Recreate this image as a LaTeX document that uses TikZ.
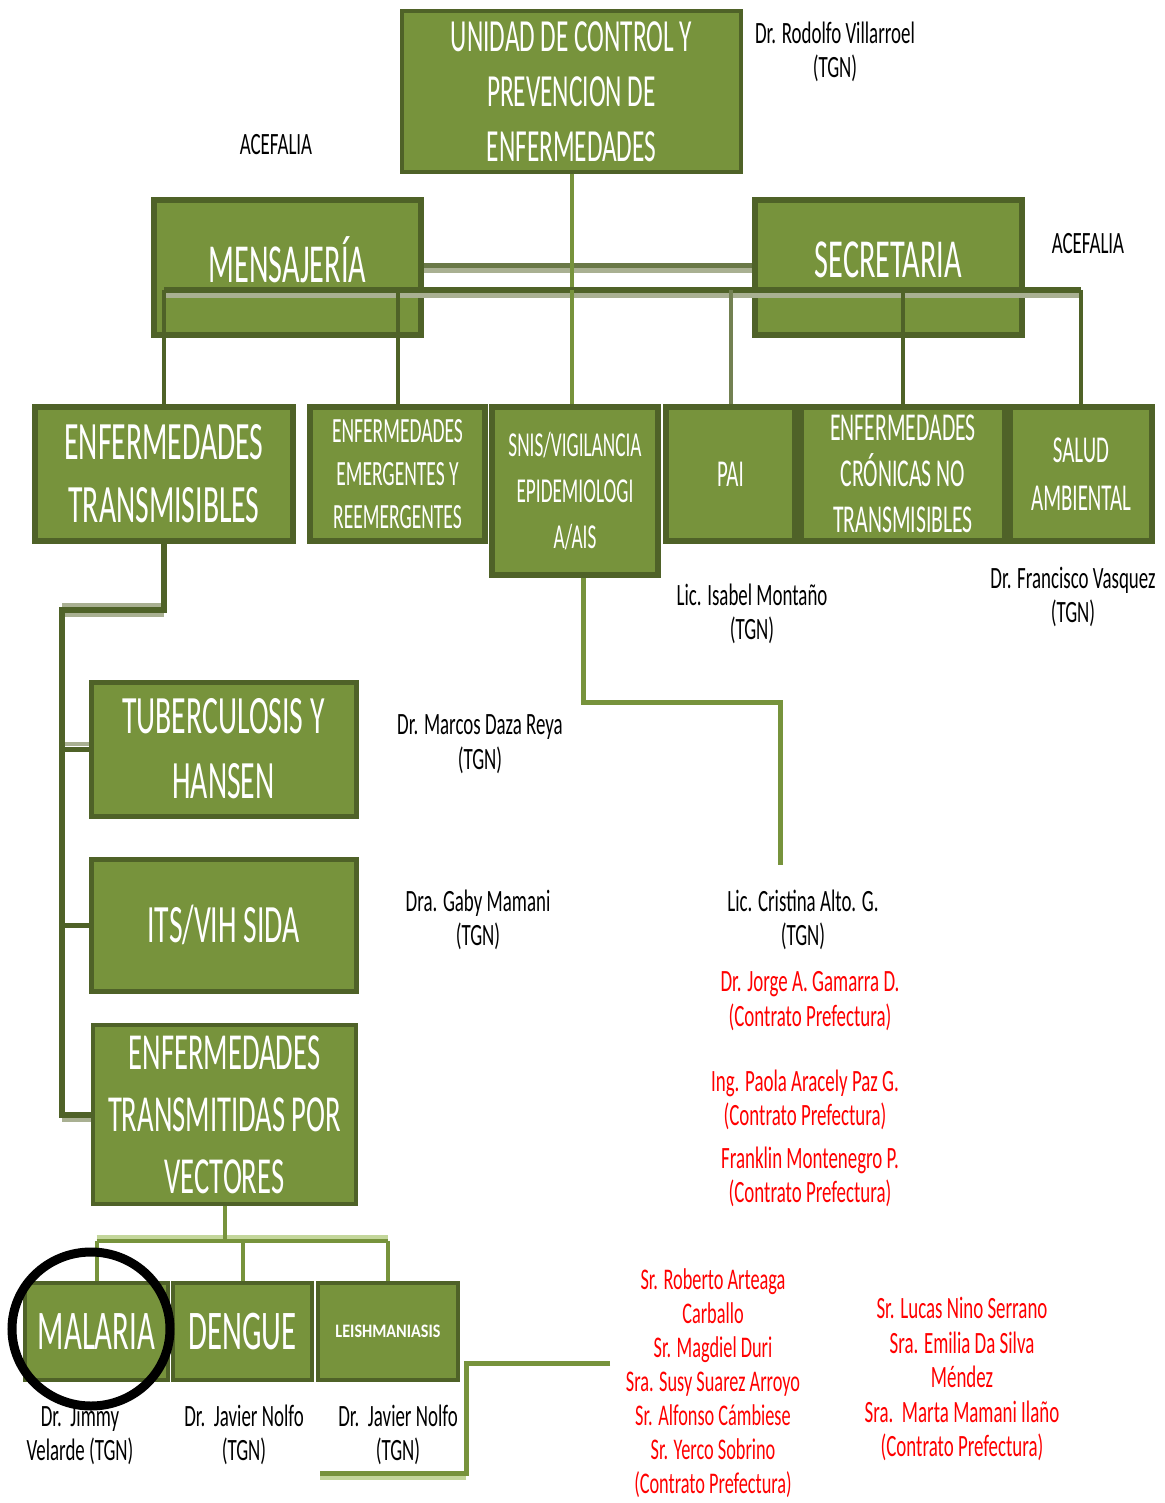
\documentclass[tikz,border=0pt]{standalone}
\usepackage{fontspec}
\newfontfamily\cf[FakeStretch=0.55]{Carlito}
\newfontfamily\cfn[FakeStretch=0.61]{Carlito}
\newfontfamily\cfw[FakeStretch=0.85]{Carlito}
\definecolor{oliveF}{HTML}{77933C}
\definecolor{oliveD}{HTML}{4F6228}
\definecolor{shadeG}{HTML}{A9B092}
\definecolor{shadeL}{HTML}{C3D69B}
\definecolor{redT}{HTML}{FF0000}
\tikzset{
  box/.style={draw=oliveD, fill=oliveF, line width=5pt, text=white, align=center, inner sep=0pt},
  conD/.style={draw=oliveD, line width=5pt},
  conG/.style={draw=oliveF, line width=5pt},
  shad/.style={draw=shadeG, line width=5pt},
  pname/.style={align=center, text=black, inner sep=0pt, font=\cfn\fontsize{31}{34.5}\selectfont},
  rname/.style={pname, text=redT},
}
\begin{document}
\begin{tikzpicture}[x=1pt,y=-1pt]
\useasboundingbox[fill=white] (0,0) rectangle (1164,1503);

% boxes
\node[box, line width=4pt, minimum width=339pt, minimum height=161pt, font=\cf\fontsize{46}{55}\selectfont] (unidad) at (571.5,91.5) {UNIDAD DE CONTROL Y\\PREVENCION DE\\ENFERMEDADES};
\node[box, line width=6pt, minimum width=267pt, minimum height=135pt, font=\cf\fontsize{55}{60}\selectfont] (mens) at (287.5,267.5) {\raisebox{8pt}[\height][\depth]{MENSAJERÍA}};
\node[box, line width=6pt, minimum width=267pt, minimum height=135pt, font=\cf\fontsize{55}{60}\selectfont] (secr) at (888.5,267.5) {\raisebox{8pt}[\height][\depth]{SECRETARIA}};

\node[box, line width=6pt, minimum width=258pt, minimum height=134pt, font=\cf\fontsize{54}{63}\selectfont] (enft) at (164,474) {ENFERMEDADES\\TRANSMISIBLES};
\node[box, line width=6pt, minimum width=175pt, minimum height=134pt, font=\cf\fontsize{35.5}{43}\selectfont] (emer) at (397.5,474) {ENFERMEDADES\\EMERGENTES Y\\REEMERGENTES};
\node[box, line width=6pt, minimum width=166pt, minimum height=168pt, font=\cf\fontsize{35}{46}\selectfont] (snis) at (575,491) {SNIS/VIGILANCIA\\EPIDEMIOLOGI\\A/AIS};
\node[box, line width=6pt, minimum width=129pt, minimum height=134pt, font=\cf\fontsize{38}{46}\selectfont] (pai) at (730.5,474) {PAI};
\node[box, line width=6pt, minimum width=204pt, minimum height=134pt, font=\cf\fontsize{39.5}{46}\selectfont] (cron) at (903,474) {ENFERMEDADES\\CRÓNICAS NO\\TRANSMISIBLES};
\node[box, line width=6pt, minimum width=142pt, minimum height=134pt, font=\cf\fontsize{38}{48}\selectfont] (salud) at (1081,474) {SALUD\\AMBIENTAL};

\node[box, line width=5pt, minimum width=265pt, minimum height=134pt, font=\cf\fontsize{54}{65}\selectfont] (tb) at (223.5,749) {TUBERCULOSIS Y\\HANSEN};
\node[box, line width=5pt, minimum width=265pt, minimum height=132pt, font=\cf\fontsize{54}{65}\selectfont] (its) at (223.5,925) {ITS/VIH SIDA};
\node[box, line width=4pt, minimum width=263pt, minimum height=179pt, font=\cf\fontsize{52}{62}\selectfont] (etv) at (224.5,1114.5) {ENFERMEDADES\\TRANSMITIDAS POR\\VECTORES};

\node[box, line width=4pt, minimum width=143pt, minimum height=97pt, font=\cf\fontsize{56}{60}\selectfont] (mal) at (96.5,1331.5) {MALARIA};
\node[box, line width=4pt, minimum width=139pt, minimum height=97pt, font=\cf\fontsize{56}{60}\selectfont] (den) at (242.5,1331.5) {DENGUE};
\node[box, line width=4pt, minimum width=140pt, minimum height=97pt, font=\cfw\bfseries\fontsize{19}{22}\selectfont] (lei) at (388,1331.5) {LEISHMANIASIS};

% top connectors
\coordinate (bus) at (165,290);
\draw[shad, line width=5pt] ([yshift=-3pt]mens.east) -- ([yshift=-3pt]secr.west);
\draw[draw=oliveD!70!shadeG, line width=5pt] ([yshift=2pt]mens.east) -- ([yshift=2pt]secr.west);
\draw[conG, line width=4pt] (unidad.south) -- (unidad.south |- snis.north);
\draw[shad, line width=5pt] ([yshift=-6pt]enft.north |- bus) -- ([yshift=-6pt]salud.north |- bus);
\draw[conD, line width=6pt] (enft.north |- bus) -- (salud.north |- bus);
\foreach \n in {enft,emer,cron,salud}
  \draw[conD, line width=4pt] (\n.north |- bus) -- (\n.north);
\draw[draw=oliveD!60!shadeG, line width=4pt] (pai.north |- bus) -- (pai.north);
\draw[conG, line width=4pt] (unidad.south |- bus) -- (unidad.south |- snis.north);

% enfermedades transmisibles spine
\coordinate (spine) at (62,610);
\draw[shad, line width=4pt] ([yshift=5pt]spine) -- ([yshift=5pt]enft.south |- spine);
\draw[shad, line width=4pt] ([yshift=-5pt]spine) -- ([yshift=-5pt]enft.south |- spine);
\draw[shad, line width=4pt] ([yshift=5pt]spine |- tb.west) -- ([yshift=5pt]tb.west);
\draw[shad, line width=4pt] ([yshift=-5pt]spine |- etv.west) -- ([yshift=-5pt]etv.west);
\draw[conD, line width=6pt] (enft.south) |- (spine) -- (spine |- etv.west) -- (etv.west);
\draw[conD, line width=5pt] (spine |- tb.west) -- (tb.west);
\draw[conD, line width=5pt] (spine |- its.west) -- (its.west);

% SNIS connector
\coordinate (snA) at (583,702);
\coordinate (snB) at (780,865);
\draw[conG, line width=5pt] (snis.south -| snA) -- (snA) -| (snB);

% vectores subtree
\coordinate (vb) at (0,1241);
\draw[draw=shadeL, line width=4pt] ([yshift=4pt]mal.north |- vb) -- ([yshift=4pt]lei.north |- vb);
\draw[conG, line width=4pt] (mal.north |- vb) -- (lei.north |- vb);
\draw[conG, line width=4pt] (etv.south) -- (etv.south |- vb);
\foreach \n in {mal,den,lei}
  \draw[conG, line width=4pt] (\n.north |- vb) -- (\n.north);

% leishmaniasis connector
\coordinate (lA) at (610,1363);
\coordinate (lB) at (466,1473);
\coordinate (lC) at (320,1473);
\draw[draw=shadeL, line width=4pt] ([yshift=-5pt]lB) -- ([yshift=-5pt]lC);
\draw[conG, line width=5pt] (lA) -| (lB) -- (lC);

% names
\node[pname] (rod) at (835,52) {Dr. Rodolfo Villarroel\\(TGN)};
\node[pname] (ace1) at (276,145) {ACEFALIA};
\node[pname] (ace2) at (1088,244) {ACEFALIA};
\node[pname] (isa) at (752,614) {Lic. Isabel Montaño\\(TGN)};
\node[pname] (fra) at (1073,597) {Dr. Francisco Vasquez\\(TGN)};
\node[pname] (mar) at (480,744) {Dr. Marcos Daza Reya\\(TGN)};
\node[pname] (gab) at (478,920) {Dra. Gaby Mamani\\(TGN)};
\node[pname] (cri) at (803,920) {Lic. Cristina Alto. G.\\(TGN)};
\node[rname] (jor) at (810,1001) {Dr. Jorge A. Gamarra D.\\(Contrato Prefectura)};
\node[rname] (pao) at (805,1100) {Ing. Paola Aracely Paz G.\\(Contrato Prefectura)};
\node[rname] (frk) at (810,1177) {Franklin Montenegro P.\\(Contrato Prefectura)};
\node[pname] (jim) at (80,1435) {Dr.\ \ Jimmy\\Velarde (TGN)};
\node[pname] (jav1) at (244,1435) {Dr.\ \ Javier Nolfo\\(TGN)};
\node[pname] (jav2) at (398,1435) {Dr.\ \ Javier Nolfo\\(TGN)};
\node[rname, font=\cfn\fontsize{30}{34}\selectfont] (grp1) at (713,1383) {Sr. Roberto Arteaga\\Carballo\\Sr. Magdiel Duri\\Sra. Susy Suarez Arroyo\\Sr. Alfonso Cámbiese\\Sr. Yerco Sobrino\\(Contrato Prefectura)};
\node[rname] (grp2) at (962,1379) {Sr. Lucas Nino Serrano\\Sra. Emilia Da Silva\\Méndez\\Sra.\ \ Marta Mamani Ilaño\\(Contrato Prefectura)};

% highlight ring
\draw[line width=9pt] (91,1329) ellipse [x radius=79pt, y radius=77pt];
\end{tikzpicture}
\end{document}
